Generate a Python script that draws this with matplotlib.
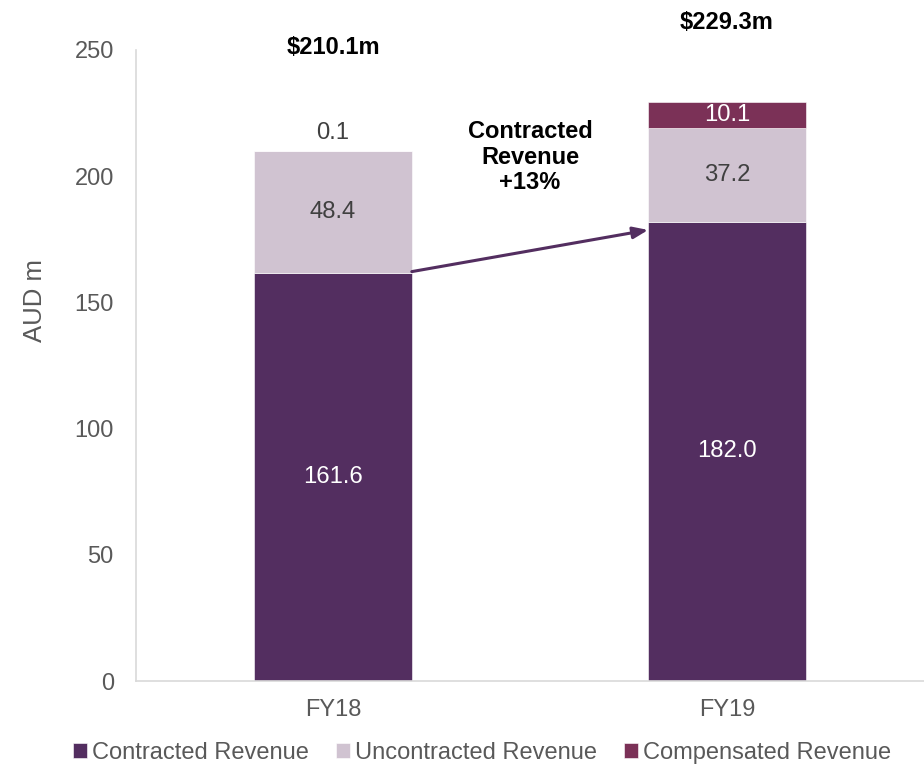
import matplotlib
matplotlib.use("Agg")
import matplotlib.pyplot as plt
import numpy as np

plt.rcParams['font.family'] = ['Liberation Sans', 'DejaVu Sans']

categories = ["FY18", "FY19"]
contracted = [161.6, 182.0]
uncontracted = [48.4, 37.2]
compensated = [0.1, 10.1]
totals_labels = ["$210.1m", "$229.3m"]
series_names = ["Contracted Revenue", "Uncontracted Revenue", "Compensated Revenue"]
colors = ["#532E60", "#D0C3D1", "#7B3157"]
yticks = [0, 50, 100, 150, 200, 250]

fig = plt.figure(figsize=(9.24, 7.69), dpi=100)
ax = fig.add_axes([0.1472, 0.1144, 0.8528, 0.8206])

x = np.arange(len(categories))
w = 0.4
c = np.array(contracted)
u = np.array(uncontracted)
p = np.array(compensated)

b1 = ax.bar(x, c, w, color=colors[0], label=series_names[0], edgecolor='white', linewidth=0.4)
b2 = ax.bar(x, u, w, bottom=c, color=colors[1], label=series_names[1], edgecolor='white', linewidth=0.4)
b3 = ax.bar(x, p, w, bottom=c + u, color=colors[2], label=series_names[2], edgecolor='white', linewidth=0.4)

ax.set_xlim(-0.5, 1.5)
ax.set_ylim(0, 250)
ax.set_yticks(yticks)
ax.set_xticks(x)
ax.set_xticklabels(categories)
ax.tick_params(axis='both', length=0, labelsize=17, colors='#595959')
ax.tick_params(axis='y', pad=16)
ax.tick_params(axis='x', pad=13)

for s in ['top', 'right']:
    ax.spines[s].set_visible(False)
for s in ['left', 'bottom']:
    ax.spines[s].set_color('#D9D9D9')
    ax.spines[s].set_linewidth(1.2)

fs = 17.2
for i in range(len(x)):
    ax.text(x[i], c[i] / 2, f"{c[i]:.1f}", ha='center', va='center', color='white', fontsize=fs)
    ax.text(x[i], c[i] + u[i] / 2, f"{u[i]:.1f}", ha='center', va='center', color='#404040', fontsize=fs)

ax.text(x[0], c[0] + u[0] + p[0] + 7, f"{p[0]:.1f}", ha='center', va='center', color='#404040', fontsize=fs)
ax.text(x[1], c[1] + u[1] + p[1] / 2, f"{p[1]:.1f}", ha='center', va='center', color='white', fontsize=fs)

ax.text(x[0], 251, totals_labels[0], ha='center', va='center', fontsize=17, fontweight='bold', color='black', clip_on=False)
ax.text(x[1], 261, totals_labels[1], ha='center', va='center', fontsize=17, fontweight='bold', color='black', clip_on=False)

ax.annotate("", xy=(x[1] - w / 2, 178.7), xytext=(x[0] + w / 2, c[0] + 0.6),
            arrowprops=dict(arrowstyle='-|>,head_length=0.9,head_width=0.35', color=colors[0], lw=2.2,
                            shrinkA=0, shrinkB=0))
ax.text(0.5, 207.5, "Contracted\nRevenue\n+13%", ha='center', va='center', fontsize=17,
        fontweight='bold', color='black', linespacing=1.15)

fig.text(35 / 924, 1 - 300 / 769, "AUD m", rotation=90, ha='center', va='center', fontsize=18.5, color='#595959')

leg = fig.legend(handles=[b1, b2, b3], labels=series_names, loc='center', bbox_to_anchor=(482 / 924, 1 - 753 / 769),
                 ncol=3, frameon=False, fontsize=17, handlelength=0.6, handleheight=0.6, handletextpad=0.2,
                 columnspacing=1.15, labelcolor='#595959')

fig.savefig("out.png", dpi=100)
